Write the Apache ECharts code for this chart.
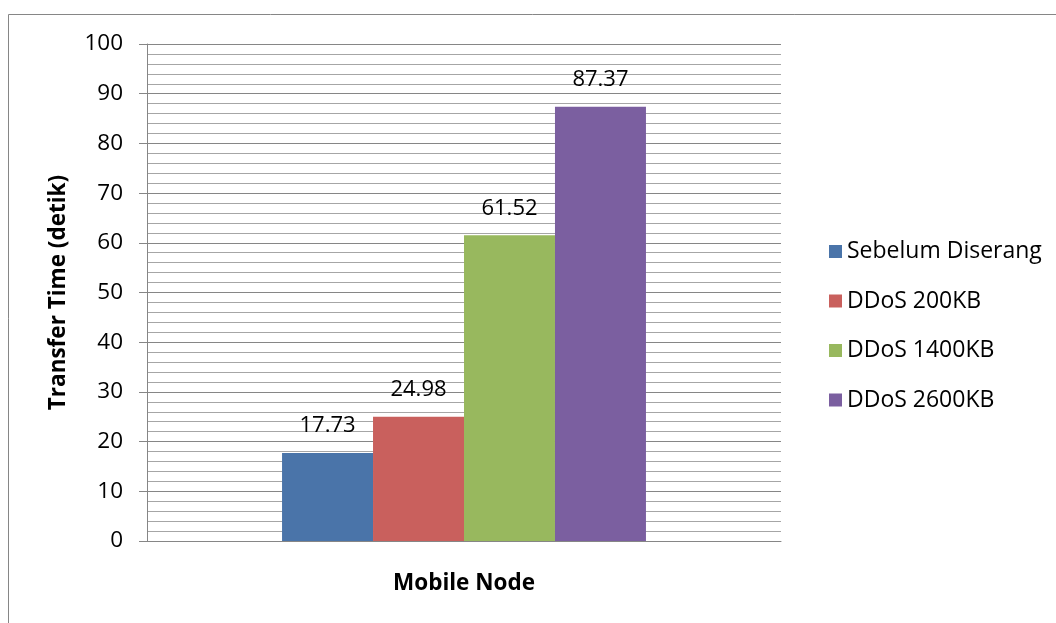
<!DOCTYPE html>
<html>
<head>
<meta charset="utf-8">
<script src="https://cdn.jsdelivr.net/npm/echarts@6/dist/echarts.min.js"></script>
<style>
  html, body { margin: 0; padding: 0; background: #ffffff; }
  #chart { width: 1056px; height: 623px; }
</style>
</head>
<body>
<div id="chart"></div>
<script>
// Transfer time of the mobile node before and during DDoS attacks
const categories = ['Mobile Node'];
const seriesNames = ['Sebelum Diserang', 'DDoS 200KB', 'DDoS 1400KB', 'DDoS 2600KB'];
const seriesValues = [[17.73], [24.98], [61.52], [87.37]];
const seriesColors = ['#4a74a9', '#c9605d', '#98b85e', '#7b5fa0'];
const yTicks = [0, 10, 20, 30, 40, 50, 60, 70, 80, 90, 100];

const FONT = '"Open Sans", "Noto Sans", sans-serif';

const chart = echarts.init(document.getElementById('chart'), null, { renderer: 'canvas' });

const series = seriesNames.map((name, i) => ({
  name: name,
  type: 'bar',
  data: seriesValues[i],
  barGap: '0%',
  barCategoryGap: '42.6%',
  itemStyle: { color: seriesColors[i] },
  label: {
    show: true,
    position: 'top',
    distance: 16,
    color: '#000',
    fontFamily: FONT,
    fontSize: 22,
    formatter: p => p.value.toFixed(2)
  }
}));

chart.setOption({
  backgroundColor: '#ffffff',
  animation: false,
  textStyle: { fontFamily: FONT },
  grid: { left: 147, right: 275, top: 44, bottom: 82, containLabel: false },
  legend: {
    orient: 'vertical',
    left: 824,
    top: 235,
    itemWidth: 13,
    itemHeight: 13,
    itemGap: 26.5,
    icon: 'rect',
    data: seriesNames,
    textStyle: {
      fontFamily: FONT,
      fontSize: 23,
      lineHeight: 22,
      color: '#000'
    }
  },
  xAxis: {
    type: 'category',
    data: categories,
    name: categories[0],
    nameLocation: 'middle',
    nameGap: 31,
    nameTextStyle: { fontFamily: FONT, fontSize: 22.5, fontWeight: 'bold', color: '#000' },
    axisLine: { show: true, lineStyle: { color: '#868686', width: 1 } },
    axisTick: { show: false },
    axisLabel: { show: false }
  },
  yAxis: {
    type: 'value',
    min: yTicks[0],
    max: yTicks[yTicks.length - 1],
    interval: 10,
    name: 'Transfer Time (detik)',
    nameLocation: 'middle',
    nameGap: 77,
    nameRotate: 90,
    nameTextStyle: { fontFamily: FONT, fontSize: 22.5, fontWeight: 'bold', color: '#000' },
    axisLine: { show: true, lineStyle: { color: '#868686', width: 1 } },
    axisTick: { show: true, length: 8, lineStyle: { color: '#868686' } },
    axisLabel: { color: '#000', fontFamily: FONT, fontSize: 22.5, margin: 24 },
    splitLine: { show: true, lineStyle: { color: '#868686', width: 1 } },
    minorTick: { show: false, splitNumber: 5 },
    minorSplitLine: { show: true, lineStyle: { color: '#a6a6a6', width: 1 } }
  },
  graphic: [
    // outer chart border (left and top edges)
    { type: 'line', silent: true, shape: { x1: 8.5, y1: 14.5, x2: 1056, y2: 14.5 }, style: { stroke: '#868686', lineWidth: 1 } },
    { type: 'line', silent: true, shape: { x1: 8.5, y1: 14.5, x2: 8.5, y2: 623 }, style: { stroke: '#868686', lineWidth: 1 } }
  ],
  series: series
});
</script>
</body>
</html>
